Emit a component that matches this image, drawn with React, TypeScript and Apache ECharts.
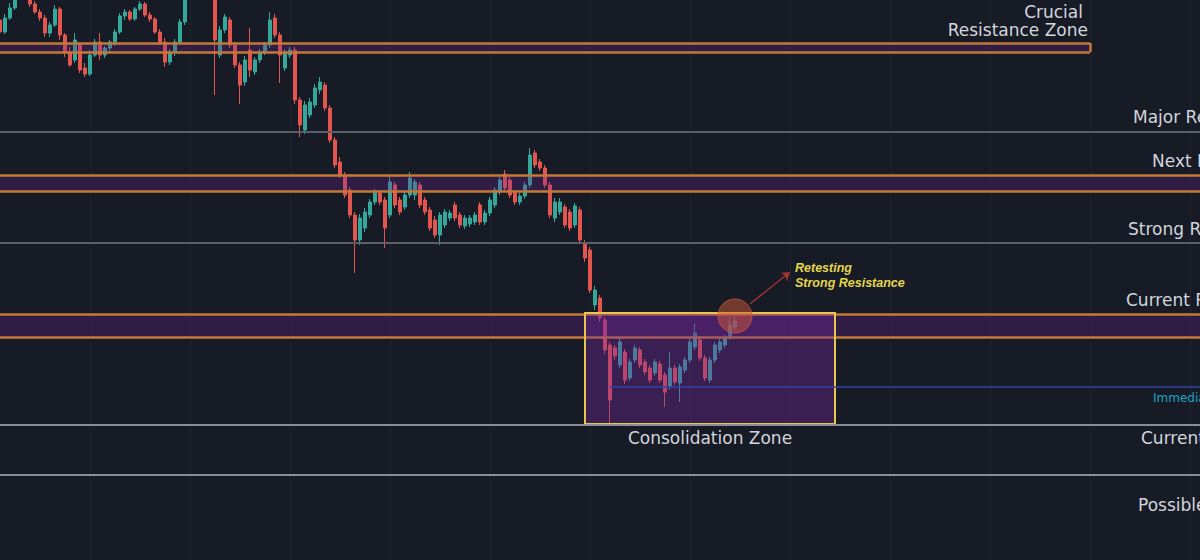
import React, { useEffect, useRef } from "react";
import * as echarts from "echarts";

// ---- axis categories (one slot every bar, future slots left empty) ----
const categories: string[] = Array.from({ length: 241 }, (_, i) => `B${i + 1}`);

// ---- candle values (price units) ----
const opens = [
  54.0, 52.8, 54.2, 55.2, 56.3, 57.2, 57.6, 55.6, 54.8, 54.2,
  52.7, 53.5, 55.1, 52.5, 50.8, 50.0, 51.5, 49.2, 48.6, 50.5,
  51.8, 50.5, 51.2, 51.8, 52.8, 54.4, 54.8, 54.1, 55.1, 55.6,
  54.5, 54.1, 52.8, 51.8, 49.8, 50.8, 51.8, 53.8, 56.5, 57.8,
  59.0, 58.4, 59.5, 57.5, 50.5, 53.0, 54.0, 51.5, 49.5, 47.8,
  51.0, 48.8, 50.0, 50.8, 51.5, 54.2, 52.5, 49.2, 50.5, 51.0,
  46.0, 43.0, 44.5, 45.5, 47.0, 47.5, 45.2, 42.0, 39.8, 38.5,
  37.0, 34.5, 32.0, 33.2, 34.5, 35.8, 36.7, 36.0, 34.5, 37.5,
  36.0, 35.3, 36.5, 36.5, 37.5, 36.0, 35.0, 34.0, 32.5, 33.5,
  34.2, 35.5, 34.5, 33.4, 33.6, 33.8, 35.5, 33.8, 34.7, 35.5,
  36.8, 38.6, 38.0, 36.7, 35.8, 36.4, 37.5, 40.7, 39.8, 39.2,
  37.5, 34.2, 34.8, 35.3, 34.8, 33.5, 35.0, 31.7, 31.0, 25.5,
  26.2, 24.0, 21.5, 21.2, 19.5, 20.8, 18.2, 20.0, 21.0, 19.8,
  19.2, 18.7, 19.6, 18.5, 17.3, 19.2, 17.7, 19.0, 20.0, 21.3,
  22.0, 20.2, 18.0, 20.0, 21.0, 21.5, 22.3, 23.3,
];
const closes = [
  52.8, 54.2, 55.2, 56.3, 57.2, 57.8, 55.6, 54.8, 54.2, 52.7,
  53.5, 55.1, 52.5, 50.8, 49.5, 52.0, 49.0, 48.6, 50.5, 51.8,
  50.5, 51.2, 51.8, 52.8, 54.4, 54.8, 54.1, 55.1, 55.6, 54.5,
  54.1, 52.8, 51.8, 49.8, 50.8, 51.8, 53.8, 56.5, 57.8, 59.0,
  58.4, 59.5, 57.5, 52.0, 53.0, 54.3, 51.5, 49.5, 47.5, 50.0,
  49.0, 50.0, 50.8, 51.5, 54.0, 52.5, 50.5, 50.8, 51.0, 46.0,
  43.5, 45.5, 45.8, 47.2, 47.8, 45.2, 42.0, 39.5, 38.5, 36.5,
  34.5, 32.0, 34.2, 34.8, 35.8, 36.7, 35.8, 33.2, 37.8, 35.5,
  34.8, 36.5, 38.2, 37.8, 35.5, 34.8, 33.2, 32.5, 34.5, 34.8,
  34.7, 34.2, 33.5, 34.2, 34.2, 34.5, 33.8, 34.7, 36.0, 37.0,
  38.0, 37.2, 36.5, 35.8, 36.4, 37.5, 40.5, 39.5, 39.2, 37.5,
  34.5, 35.8, 35.8, 33.5, 33.2, 35.4, 32.0, 30.2, 27.0, 27.0,
  24.2, 21.0, 16.0, 20.4, 21.8, 18.0, 19.8, 21.2, 19.5, 18.8,
  18.0, 19.8, 18.0, 16.8, 19.2, 17.8, 19.3, 20.0, 21.8, 22.7,
  20.2, 18.2, 20.0, 21.5, 21.8, 22.2, 23.5, 23.9,
];
const lows = [
  52.5, 52.6, 54.0, 55.0, 56.1, 56.8, 55.3, 54.6, 53.9, 52.3,
  52.3, 53.3, 52.0, 50.3, 49.3, 49.7, 48.7, 48.3, 48.4, 50.3,
  50.0, 50.2, 50.9, 51.4, 52.6, 54.0, 53.9, 53.9, 54.9, 54.3,
  53.8, 52.6, 51.5, 49.3, 49.5, 50.4, 51.6, 53.5, 56.2, 57.4,
  58.0, 58.0, 56.8, 46.5, 50.2, 52.7, 51.2, 49.2, 45.6, 47.4,
  48.3, 48.5, 49.7, 50.5, 51.2, 52.2, 47.7, 48.9, 50.2, 45.6,
  42.3, 42.6, 44.2, 45.2, 46.6, 44.9, 41.7, 39.2, 38.2, 36.2,
  34.2, 28.7, 31.5, 32.8, 34.2, 35.5, 35.5, 31.2, 34.2, 35.2,
  34.5, 35.0, 36.2, 36.0, 35.2, 34.5, 32.9, 32.2, 31.5, 33.2,
  33.9, 33.9, 33.2, 33.1, 33.3, 33.5, 33.5, 33.5, 34.4, 35.2,
  36.5, 36.9, 36.2, 35.5, 35.5, 36.1, 37.2, 39.2, 38.9, 37.2,
  34.2, 33.8, 34.5, 33.2, 32.9, 33.2, 31.7, 29.8, 26.7, 25.0,
  23.8, 20.6, 13.7, 20.0, 19.2, 17.6, 17.9, 19.7, 19.2, 18.5,
  17.7, 18.4, 17.7, 15.3, 17.0, 17.5, 15.8, 18.7, 19.7, 21.0,
  19.9, 17.9, 17.7, 19.7, 20.7, 21.2, 22.0, 23.0,
];
const highs = [
  54.3, 54.6, 55.7, 56.6, 57.6, 58.2, 58.0, 55.9, 55.1, 54.5,
  53.8, 55.5, 55.3, 52.7, 51.3, 52.7, 51.8, 49.7, 51.0, 52.1,
  52.7, 51.4, 52.0, 53.1, 54.7, 55.1, 55.0, 55.3, 55.9, 55.8,
  54.8, 54.3, 53.1, 52.2, 51.1, 52.1, 54.1, 56.9, 58.2, 59.4,
  59.6, 60.0, 59.8, 57.8, 53.4, 54.6, 54.3, 51.8, 49.8, 50.4,
  53.2, 50.3, 51.1, 51.8, 54.8, 54.6, 52.8, 51.1, 51.3, 51.3,
  46.3, 45.9, 46.2, 47.6, 48.3, 47.8, 45.5, 42.3, 40.3, 38.8,
  37.3, 34.8, 34.6, 35.2, 36.1, 37.1, 37.0, 36.3, 38.5, 37.8,
  36.3, 36.8, 38.8, 38.1, 37.8, 36.3, 35.3, 34.4, 34.8, 35.1,
  35.0, 35.8, 34.8, 34.5, 34.5, 34.8, 35.8, 35.0, 36.3, 37.3,
  38.3, 39.0, 38.3, 37.0, 36.7, 37.8, 41.2, 41.0, 40.1, 39.5,
  37.8, 36.2, 36.2, 35.6, 35.1, 35.7, 35.3, 32.0, 31.3, 27.4,
  26.5, 24.3, 21.8, 21.5, 22.2, 21.1, 20.1, 21.5, 21.3, 20.1,
  19.5, 20.1, 19.9, 18.8, 20.8, 19.5, 19.6, 20.3, 22.1, 23.7,
  22.3, 20.5, 20.3, 21.8, 22.1, 22.5, 24.3, 24.4,
];

// ---- price levels / zones ----
const crucialZone = [50.8, 51.7]; // low, high
const crucialZoneEnd = 218; // category index where the zone box stops
const majorResistance = 42.85;
const nextResistanceZone = [36.9, 38.5];
const strongResistance = 31.7;
const currentResistanceZone = [22.3, 24.6];
const consolidationRange = [13.6, 24.7];
const consolidationSpan = [117, 167];
const immediateSupport = 17.3;
const immediateSupportStart = 122;
const currentSupport = 13.5;
const possibleSupport = 8.5;
const retestPoint = [147, 24.4];
const arrowFrom = [150, 25.6];
const arrowTo = [158, 28.8];

const levelLabels = [
  "Major Resistance",
  "Next Resistance",
  "Strong Resistance",
  "Current Resistance",
  "Immediate Support",
  "Current Support",
  "Possible Support",
];

const BG = "#171b26";
const UP = "#35a89c";
const DOWN = "#e3564f";
const ORANGE = "#c47a36";
const BAND_FILL = "rgba(118, 36, 160, 0.27)";
const LABEL = "#d3d5db";
const FONT = '"DejaVu Sans", "Noto Sans", sans-serif';

function label(text: string, x: number, y: number, extra: any = {}) {
  return {
    type: "text",
    x,
    y,
    silent: true,
    z: 20,
    style: {
      text,
      fill: extra.fill || LABEL,
      fontSize: extra.fontSize || 17,
      fontFamily: extra.fontFamily || FONT,
      fontWeight: extra.fontWeight || "normal",
      fontStyle: extra.fontStyle || "normal",
      align: extra.align || "left",
      textAlign: extra.align || "left",
      verticalAlign: "middle",
      textVerticalAlign: "middle",
    },
  };
}

export default function App() {
  const ref = useRef<HTMLDivElement>(null);

  useEffect(() => {
    document.body.style.margin = "0";
    document.body.style.background = BG;
    if (!ref.current) return;
    const chart = echarts.init(ref.current, null, { renderer: "svg" });

    const candleData = opens.map((o, i) => [o, closes[i], lows[i], highs[i]]);
    const last = categories.length - 1;
    const edge = { color: ORANGE, width: 2.5, type: "solid" };

    const option: any = {
      animation: false,
      backgroundColor: BG,
      grid: { left: 0, right: 0, top: 0, bottom: 0 },
      xAxis: {
        type: "category",
        data: categories,
        boundaryGap: false,
        axisLine: { show: false },
        axisTick: { show: false },
        axisLabel: { show: false },
        splitLine: {
          show: true,
          interval: (idx: number) => idx % 20 === 18,
          lineStyle: { color: "rgba(255,255,255,0.035)", width: 1 },
        },
      },
      yAxis: {
        type: "value",
        min: 0,
        max: 56,
        axisLine: { show: false },
        axisTick: { show: false },
        axisLabel: { show: false },
        splitLine: { show: false },
      },
      series: [
        {
          name: "Price",
          type: "candlestick",
          z: 2,
          barWidth: 4,
          data: candleData,
          silent: true,
          itemStyle: {
            color: UP,
            color0: DOWN,
            borderColor: UP,
            borderColor0: DOWN,
            borderWidth: 1,
          },
        },
        {
          name: "Bands",
          type: "line",
          data: [],
          z: 3,
          silent: true,
          markArea: {
            z: 3,
            silent: true,
            label: { show: false },
            itemStyle: { color: BAND_FILL, borderWidth: 0 },
            data: [
              [{ coord: [0, crucialZone[1]] }, { coord: [crucialZoneEnd, crucialZone[0]] }],
              [{ yAxis: nextResistanceZone[1] }, { yAxis: nextResistanceZone[0] }],
              [{ yAxis: currentResistanceZone[1] }, { yAxis: currentResistanceZone[0] }],
            ],
          },
          markLine: {
            z: 3,
            silent: true,
            symbol: ["none", "none"],
            label: { show: false },
            lineStyle: edge,
            data: [
              [{ coord: [0, crucialZone[1]] }, { coord: [crucialZoneEnd, crucialZone[1]] }],
              [{ coord: [0, crucialZone[0]] }, { coord: [crucialZoneEnd, crucialZone[0]] }],
              [{ coord: [crucialZoneEnd, crucialZone[1]] }, { coord: [crucialZoneEnd, crucialZone[0]] }],
              { yAxis: nextResistanceZone[1] },
              { yAxis: nextResistanceZone[0] },
              { yAxis: currentResistanceZone[1] },
              { yAxis: currentResistanceZone[0] },
            ],
          },
        },
        {
          name: "Consolidation",
          type: "line",
          data: [],
          z: 4,
          silent: true,
          markArea: {
            z: 4,
            silent: true,
            label: { show: false },
            data: [
              [
                {
                  coord: [consolidationSpan[0], consolidationRange[1]],
                  itemStyle: {
                    color: "rgba(118, 40, 160, 0.36)",
                    borderColor: "#e6c64c",
                    borderWidth: 2,
                  },
                },
                { coord: [consolidationSpan[1], consolidationRange[0]] },
              ],
            ],
          },
        },
        {
          name: "Levels",
          type: "line",
          data: [],
          z: 5,
          silent: true,
          markLine: {
            z: 5,
            silent: true,
            symbol: ["none", "none"],
            label: { show: false },
            data: [
              { yAxis: majorResistance, lineStyle: { color: "#5c5f6b", width: 2, type: "solid" } },
              { yAxis: strongResistance, lineStyle: { color: "#5c5f6b", width: 2, type: "solid" } },
              { yAxis: currentSupport, lineStyle: { color: "#8a8d96", width: 2, type: "solid" } },
              { yAxis: possibleSupport, lineStyle: { color: "#8a8d96", width: 2, type: "solid" } },
              [
                { coord: [immediateSupportStart, immediateSupport], lineStyle: { color: "#3243a6", width: 1.5, type: "solid" } },
                { coord: [last, immediateSupport] },
              ],
            ],
          },
        },
        {
          name: "Annotation",
          type: "line",
          data: [],
          z: 6,
          silent: true,
          markPoint: {
            z: 6,
            silent: true,
            symbol: "circle",
            symbolSize: 34,
            label: { show: false },
            itemStyle: {
              color: "rgba(205, 88, 52, 0.5)",
              borderColor: "rgba(215, 90, 55, 0.7)",
              borderWidth: 1,
            },
            data: [{ coord: retestPoint }],
          },
          markLine: {
            z: 6,
            silent: true,
            symbol: ["none", "arrow"],
            symbolSize: 8,
            label: { show: false },
            lineStyle: { color: "#9c3434", width: 1.5, type: "solid" },
            data: [[{ coord: arrowFrom }, { coord: arrowTo }]],
          },
        },
      ],
      graphic: [
        label("Crucial", 1083, 12, { align: "right" }),
        label("Resistance Zone", 1088, 30, { align: "right" }),
        label(levelLabels[0], 1133, 117),
        label(levelLabels[1], 1152, 161),
        label(levelLabels[2], 1128, 229),
        label(levelLabels[3], 1126, 300),
        label(levelLabels[4], 1153, 398, { fill: "#1fa3c2", fontSize: 12 }),
        label(levelLabels[5], 1141, 438),
        label(levelLabels[6], 1138, 505),
        label("Consolidation Zone", 710, 438, { align: "center" }),
        label("Retesting", 795, 268, {
          fill: "#e2d64a",
          fontSize: 12.5,
          fontWeight: "bold",
          fontStyle: "italic",
          fontFamily: '"Liberation Sans", Arial, sans-serif',
        }),
        label("Strong Resistance", 795, 283, {
          fill: "#e2d64a",
          fontSize: 12.5,
          fontWeight: "bold",
          fontStyle: "italic",
          fontFamily: '"Liberation Sans", Arial, sans-serif',
        }),
      ],
    };

    chart.setOption(option);
    return () => chart.dispose();
  }, []);

  return (
    <div
      ref={ref}
      style={{ position: "absolute", left: 0, top: 0, width: 1200, height: 560, background: BG }}
    />
  );
}
